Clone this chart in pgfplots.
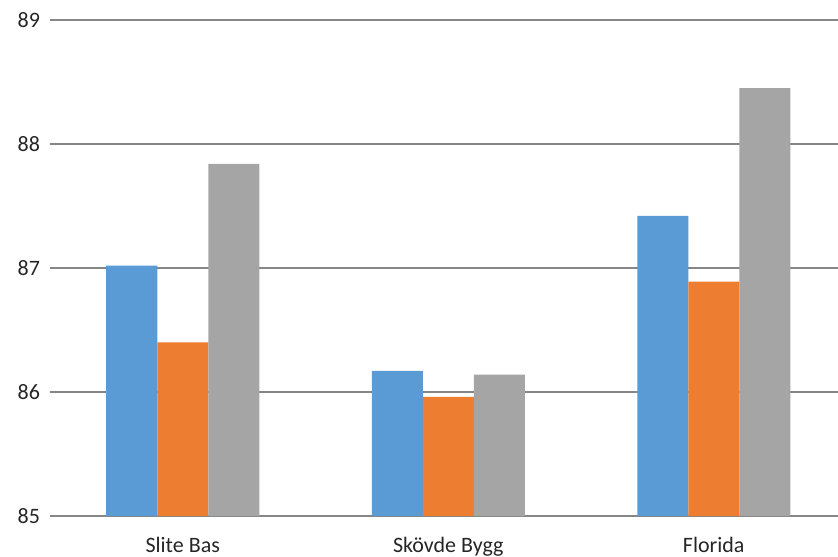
\documentclass[border=0pt]{standalone}
\usepackage{fontspec}
\setmainfont{Carlito}
\usepackage{pgfplots}
\pgfplotsset{compat=1.18}

\definecolor{serA}{HTML}{5B9BD5}
\definecolor{serB}{HTML}{ED7D31}
\definecolor{serC}{HTML}{A5A5A5}
\definecolor{gridc}{HTML}{868686}
\definecolor{labc}{HTML}{262626}

\begin{document}
\begin{tikzpicture}
\path[use as bounding box] (-25pt,-20pt) rectangle (394pt,258pt);
\begin{axis}[
  scale only axis,
  width=394pt, height=248pt,
  ybar=0pt, bar width=25.5pt,
  xmin=-0.5, xmax=2.468,
  ymin=85, ymax=89,
  ytick={85,86,87,88,89},
  xtick={0,1,2},
  xticklabels={Slite Bas,Skövde Bygg,Florida},
  axis line style={draw=none},
  major tick length=0pt,
  ymajorgrids,
  grid style={gridc, line width=0.75pt},
  clip=false,
  tick label style={font=\fontsize{11}{13}\selectfont, text=labc},
  /pgf/number format/assume math mode=true,
  yticklabel style={xshift=-1.5pt},
  xticklabel style={yshift=-7pt},
]
\addplot[fill=serA, draw=none] coordinates {(0,87.02) (1,86.17) (2,87.42)};
\addplot[fill=serB, draw=none] coordinates {(0,86.40) (1,85.96) (2,86.89)};
\addplot[fill=serC, draw=none] coordinates {(0,87.84) (1,86.14) (2,88.45)};
\end{axis}
\end{tikzpicture}
\end{document}
